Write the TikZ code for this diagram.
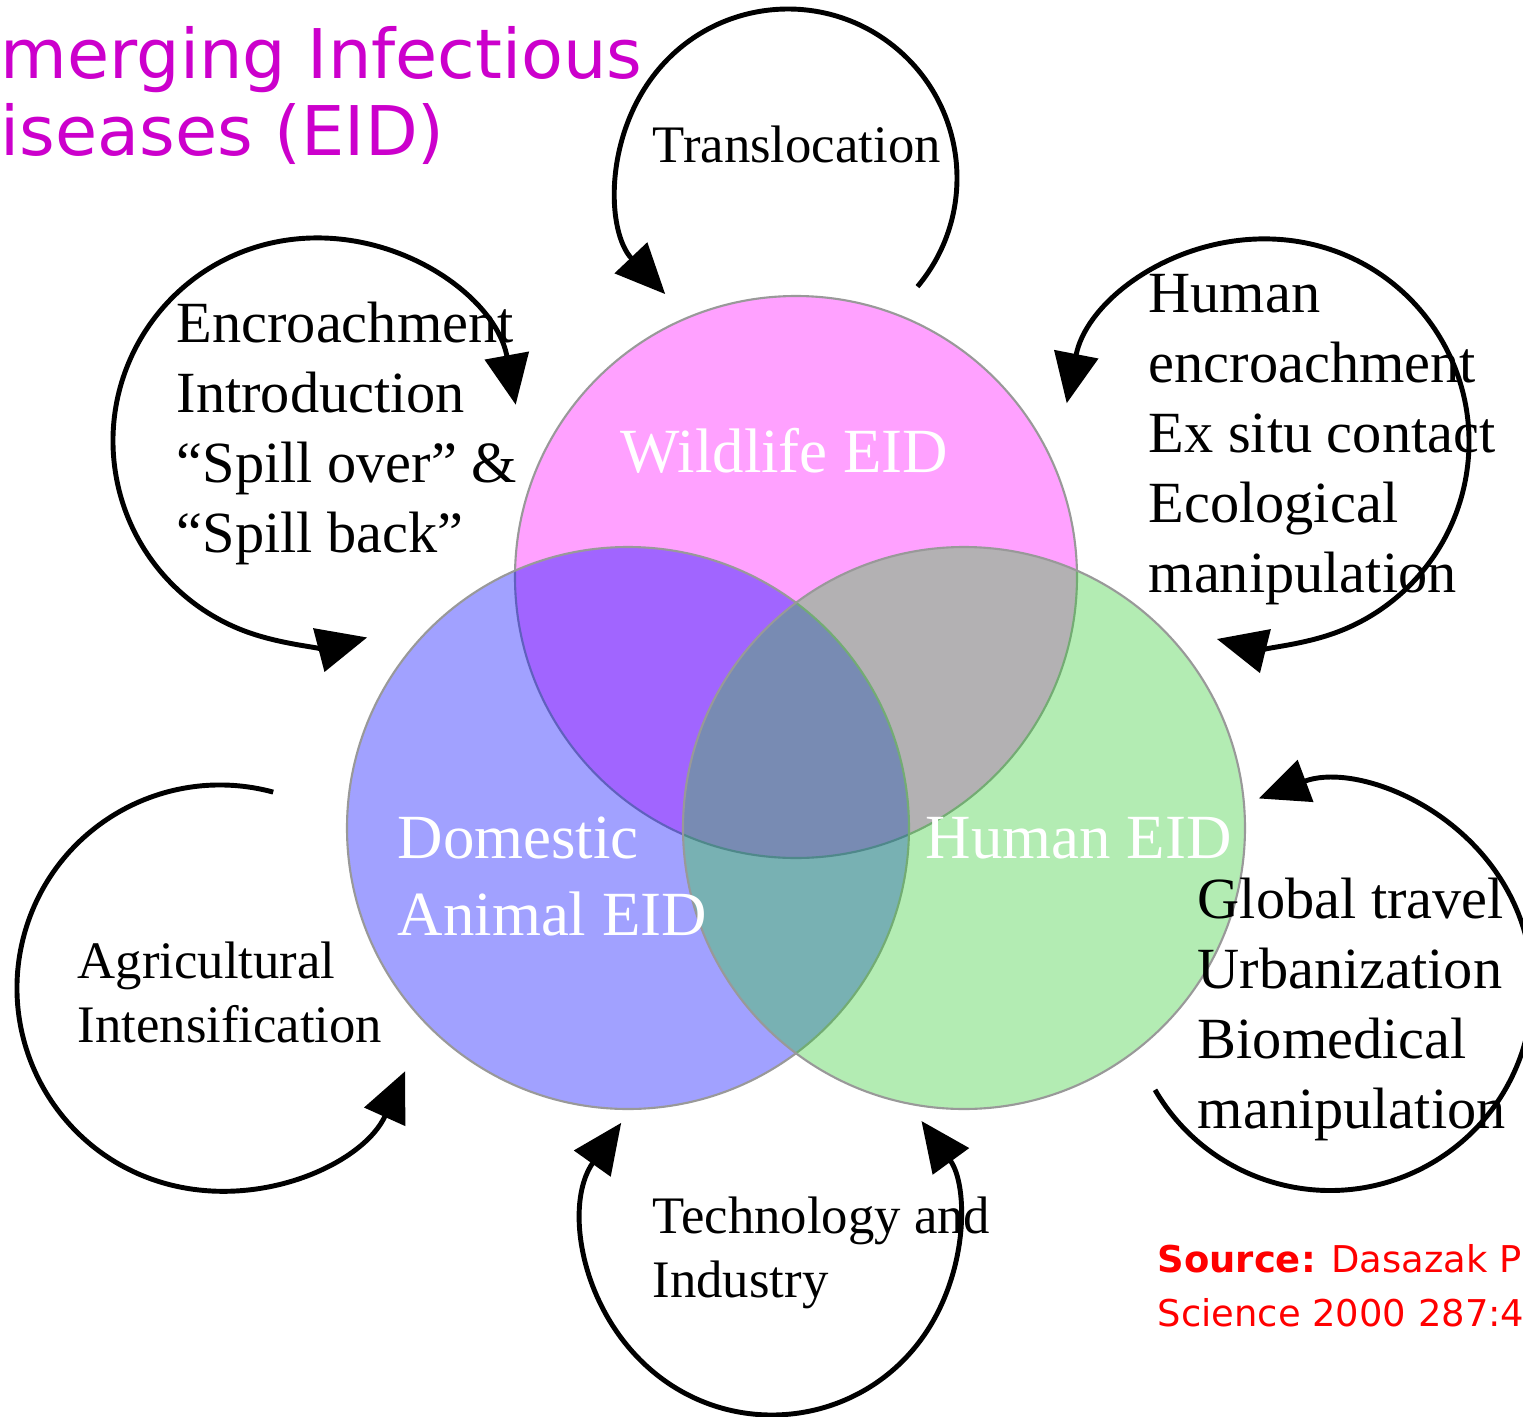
\documentclass[tikz,border=0pt]{standalone}
\usepackage{fontspec}
\setmainfont{Liberation Serif}
\newfontfamily\headfont{DejaVu Sans}
\usetikzlibrary{arrows.meta}

\definecolor{wildpink}{RGB}{255,0,255}
\definecolor{domblue}{RGB}{0,0,255}
\definecolor{humgreen}{RGB}{50,205,50}
\definecolor{titlemag}{RGB}{204,0,204}

\tikzset{
  venn/.style={circle, draw=black!40, line width=0.6pt, fill opacity=0.37, minimum size=5.62cm, inner sep=0pt},
  loopline/.style={line width=1.4pt, >={Triangle[length=0.5cm, width=0.44cm]}},
  bigtext/.style={anchor=base west, inner sep=0pt, align=left, font=\fontsize{16.6}{19.9}\selectfont},
  smalltext/.style={anchor=base west, inner sep=0pt, align=left, font=\fontsize{15}{18.2}\selectfont},
  circtext/.style={anchor=base west, inner sep=0pt, align=left, text=white, font=\fontsize{17.9}{21.9}\selectfont}
}

\begin{document}
\begin{tikzpicture}
  \useasboundingbox (0,0) rectangle (15.23,-14.17);
  \fill[white] (0,0) rectangle (15.23,-14.17);

  % Define the three disease circles
  \node[venn, fill=wildpink] (wild) at (7.96,-5.77) {};
  \node[venn, fill=domblue] (dom) at (6.28,-8.28) {};
  \node[venn, fill=humgreen] (hum) at (9.64,-8.28) {};

  % Labels inside the circles (base = last line)
  \node[circtext] (wildlbl) at (6.20,-4.72) {Wildlife EID};
  \node[circtext] (domlbl) at (3.97,-9.35) {Domestic\\Animal EID};
  \node[circtext] (humlbl) at (9.25,-8.58) {Human EID};

  % Define the centres of the loops
  \coordinate (trans) at (7.88,-1.78);
  \coordinate (encr) at (3.16,-4.41);
  \coordinate (human) at (12.66,-4.42);
  \coordinate (agri) at (2.20,-9.88);
  \coordinate (tech) at (7.72,-12.30);
  \coordinate (travel) at (13.30,-9.88);

  % Draw the loops
  \draw[loopline,->] ([shift={(-40:1.69)}]trans) arc[start angle=-40, end angle=223.4, radius=1.69];
  \draw[loopline,<->] ([shift={(10.3:2.03)}]encr) arc[start angle=10.3, end angle=284.6, radius=2.03];
  \draw[loopline,<->] ([shift={(169:2.03)}]human) arc[start angle=169, end angle=-104, radius=2.03];
  \draw[loopline,->] ([shift={(74.8:2.03)}]agri) arc[start angle=74.8, end angle=335.8, radius=2.03];
  \draw[loopline,<->] ([shift={(144.6:1.85)}]tech) arc[start angle=144.6, end angle=396.1, radius=1.85];
  \draw[loopline,->] ([shift={(210.2:2.025)}]travel) arc[start angle=210.2, end angle=470.6, radius=2.025];

  % Texts of the loops
  \node[smalltext] (translbl) at (6.52,-1.62) {Translocation};
  \node[bigtext] (encrlbl) at (1.76,-5.52) {Encroachment\\Introduction\\“Spill over” \&\\“Spill back”};
  \node[bigtext] (humanlbl) at (11.48,-5.92) {Human\\encroachment\\Ex situ contact\\Ecological\\manipulation};
  \node[bigtext] (travellbl) at (11.97,-11.28) {Global travel\\Urbanization\\Biomedical\\manipulation};
  \node[smalltext] (agrilbl) at (0.77,-10.42) {Agricultural\\Intensification};
  \node[smalltext] (techlbl) at (6.52,-12.97) {Technology and\\Industry};

  % Title and source
  \node[anchor=base west, inner sep=0pt, align=left, text=titlemag, font=\headfont\fontsize{19.5}{21.9}\selectfont] (title) at (0,-1.55) {merging Infectious\\iseases (EID)};
  \node[anchor=base west, inner sep=0pt, align=left, text=red, font=\headfont\fontsize{10.5}{15.1}\selectfont] (source) at (11.57,-13.26) {\textbf{Source:} Dasazak P\\Science 2000 287:4};
\end{tikzpicture}
\end{document}
